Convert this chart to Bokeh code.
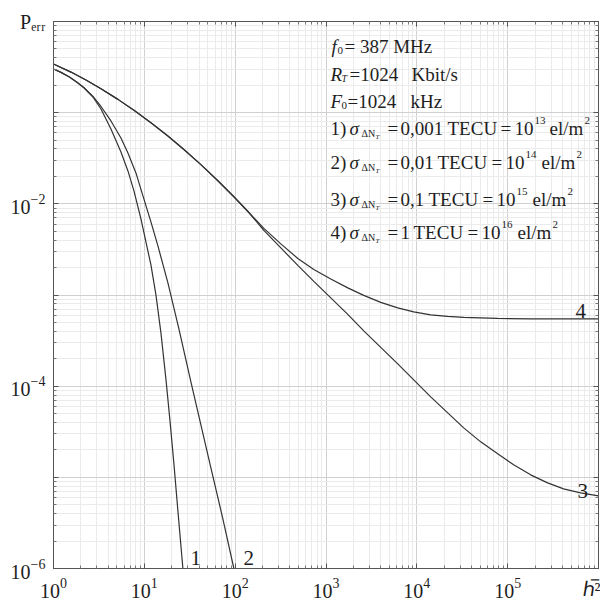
from bokeh.plotting import figure
from bokeh.models import Label, LogAxis, FixedTicker, Range1d, LogTickFormatter
from bokeh.embed import file_html
from bokeh.resources import INLINE

# ---------------- data ----------------
h_1 = [1, 1.209, 1.481, 1.814, 2.165, 2.719, 3.332, 4.291, 5.528, 6.600, 7.686, 9.177,
       11.82, 13.42, 15.23, 17.28, 19.12, 21.17, 23.42, 26.58]
P_1 = [0.3015, 0.2766, 0.2475, 0.2160, 0.1875, 0.1486, 0.1098, 0.0663, 0.03708, 0.02295,
       0.01385, 0.00683, 0.002138, 0.001003, 0.000384, 0.0001202, 4.27e-5, 1.406e-5, 4.29e-6, 1e-6]

h_2 = [1, 1.209, 1.481, 1.814, 2.165, 2.719, 3.332, 4.291, 5.528, 6.600, 8.084, 9.652,
       11.82, 14.11, 18.18, 24.02, 32.56, 41.95, 54.05, 73.21, 96.76]
P_2 = [0.3015, 0.2766, 0.2475, 0.2160, 0.1875, 0.1505, 0.1169, 0.0811, 0.0528, 0.03615,
       0.02182, 0.01221, 0.00633, 0.003453, 0.001357, 0.000425, 0.0001115, 3.76e-5, 1.271e-5,
       3.51e-6, 1e-6]

h_3 = [1, 1.557, 2.278, 3.332, 5.124, 7.686, 11.82, 18.18, 27.27, 41.95, 64.5, 96.76, 141.5,
       206.9, 318.3, 489.6, 734.3, 1129, 1737, 2604, 4008, 6165, 9246, 14220, 21880, 32810,
       50470, 77620, 116400, 179100, 275400, 413000, 635600, 1e6]
P_3 = [0.342, 0.2787, 0.2284, 0.1833, 0.1399, 0.1065, 0.0777, 0.0554, 0.0395, 0.0269, 0.01792,
       0.01197, 0.00803, 0.005108, 0.003284, 0.002112, 0.001410, 0.000929, 0.000613, 0.000404,
       0.000266, 0.0001756, 0.0001172, 7.63e-5, 5.10e-5, 3.49e-5, 2.45e-5, 1.81e-5, 1.371e-5,
       1.065e-5, 8.70e-6, 7.48e-6, 6.76e-6, 6.27e-6]

h_4 = [1, 1.557, 2.278, 3.332, 5.124, 7.686, 11.82, 18.18, 27.27, 41.95, 64.5, 96.76, 141.5,
       206.9, 318.3, 489.6, 734.3, 1129, 1737, 2604, 4008, 6165, 9246, 14220, 21880, 32810,
       77620, 179100, 1e6]
P_4 = [0.342, 0.2787, 0.2284, 0.1833, 0.1399, 0.1065, 0.0777, 0.0554, 0.0395, 0.0269, 0.01792,
       0.01197, 0.00803, 0.005373, 0.003634, 0.002519, 0.001909, 0.001501, 0.001197, 0.000990,
       0.000830, 0.000722, 0.000653, 0.000605, 0.000583, 0.000568, 0.000554, 0.000547, 0.000547]

x_tick_exps = [0, 1, 2, 3, 4, 5, 6]
y_tick_exps = [-6, -5, -4, -3, -2, -1, 0]
y_blank_exps = [-5, -3, -1]
x_title = "ℎ̅²"
y_title = "Pₑᵣᵣ"
curve_names = ["1", "2", "3", "4"]

sigma_prefix = ["1)", "2)", "3)", "4)"]
sigma_values = ["0,001", "0,01", "0,1", "1"]
el_exps = ["13", "14", "15", "16"]

# ---------------- figure ----------------
W, H = 600, 602
ML, MR, MT, MB = 53, 2, 21, 34
FL = ML          # page x of frame left
FB = H - MB      # page y of frame bottom

p = figure(width=W, height=H, x_axis_type="log", y_axis_type="log",
           x_range=Range1d(1, 1e6), y_range=Range1d(1e-6, 1),
           output_backend="svg", toolbar_location=None,
           min_border_left=ML, min_border_right=MR, min_border_top=MT, min_border_bottom=MB)
p.background_fill_color = "white"
p.border_fill_color = "white"
p.outline_line_color = "#555555"

xmaj = [10.0 ** e for e in x_tick_exps]
xmin = [m * 10.0 ** e for e in x_tick_exps[:-1] for m in range(2, 10)]
ymaj = [10.0 ** e for e in y_tick_exps]
ymin = [m * 10.0 ** e for e in y_tick_exps[:-1] for m in range(2, 10)]

p.add_layout(LogAxis(), "above")
p.add_layout(LogAxis(), "right")

FONT = "Liberation Serif"
TXT = "#1e1e1e"

for ax in p.xaxis:
    ax.ticker = FixedTicker(ticks=xmaj, minor_ticks=xmin)
for ax in p.yaxis:
    ax.ticker = FixedTicker(ticks=ymaj, minor_ticks=ymin)
for ax in list(p.xaxis) + list(p.yaxis):
    ax.major_tick_in = 5
    ax.major_tick_out = 0
    ax.minor_tick_in = 3
    ax.minor_tick_out = 0
    ax.axis_line_color = "#555555"
    ax.major_tick_line_color = "#555555"
    ax.minor_tick_line_color = "#777777"

# hidden labels on the top / right axes
for ax in (p.above[0], p.right[0]):
    ax.major_label_text_font_size = "1px"
    ax.major_label_text_alpha = 0
    ax.major_label_standoff = 0

# labelled bottom / left axes
bx = p.below[0]
ly = p.left[0]
for ax in (bx, ly):
    ax.formatter = LogTickFormatter()
    ax.major_label_text_font = FONT
    ax.major_label_text_font_size = "20px"
    ax.major_label_text_color = TXT
bx.major_label_standoff = 9
ly.major_label_standoff = 8
bx.major_label_overrides = {xmaj[-1]: x_title}
ov = {10.0 ** e: "" for e in y_blank_exps}
ov[ymaj[-1]] = y_title
ly.major_label_overrides = ov

for g in (p.xgrid, p.ygrid):
    g.grid_line_color = "#d0d0d0"
    g.grid_line_width = 1
    g.minor_grid_line_color = "#ebebeb"
    g.minor_grid_line_width = 1

# ---------------- curves ----------------
for hh, pp in ((h_1, P_1), (h_2, P_2), (h_3, P_3), (h_4, P_4)):
    p.line(hh, pp, line_color="#333333", line_width=1.2)


def pg(text, X, Y, size, italic=False, align="left"):
    """Label placed at page pixel position (X, baseline Y)."""
    p.add_layout(Label(x=X - FL, y=FB - Y, x_units="screen", y_units="screen",
                       text=text, text_font=FONT, text_font_size=f"{size}px",
                       text_font_style="italic" if italic else "normal",
                       text_align=align, text_baseline="alphabetic", text_color=TXT))


# curve numbers
for name, (X, Y) in zip(curve_names, [(190, 557), (243, 557), (577, 490), (575, 310)]):
    pg(name, X, Y, 21)

# ---------------- parameter block ----------------
S = 19
pg("f", 331, 46, S, italic=True)
pg("0", 337, 50, 11)
pg("= 387 MHz", 344, 46, S)

pg("R", 330, 74, S, italic=True)
pg("T", 341, 78, 10, italic=True)
pg("=1024", 349, 74, S)
pg("Kbit/s", 411, 74, S)

pg("F", 330, 101, S, italic=True)
pg("0", 341, 105, 11)
pg("=1024", 347, 101, S)
pg("kHz", 410, 101, S)

baselines = [128, 162, 199, 232]
xpos = [  # value, "TECU", "=", "10", exp, "el/m", "2"
    (400, 447, 500, 514, 534, 549, 584),
    (400, 437, 491, 505, 525, 541, 576),
    (400, 428, 482, 496, 516, 532, 567),
    (400, 413, 467, 481, 501, 517, 552),
]
for i in range(4):
    Y = baselines[i]
    xv, xt, xe2, x10, xx, xel, x2 = xpos[i]
    pg(sigma_prefix[i], 330, Y, S)
    pg("σ", 349, Y, S, italic=True)
    pg("ΔN", 361, Y + 5, 10)
    pg("T", 375, Y + 8, 7, italic=True)
    pg("=", 387, Y, S)
    pg(sigma_values[i], xv, Y, S)
    pg("TECU", xt, Y, S)
    pg("=", xe2, Y, S)
    pg("10", x10, Y, S)
    pg(el_exps[i], xx, Y - 8, 11)
    pg("el/m", xel, Y, S)
    pg("2", x2, Y - 8, 11)

open("out.html", "w").write(file_html(p, INLINE))
